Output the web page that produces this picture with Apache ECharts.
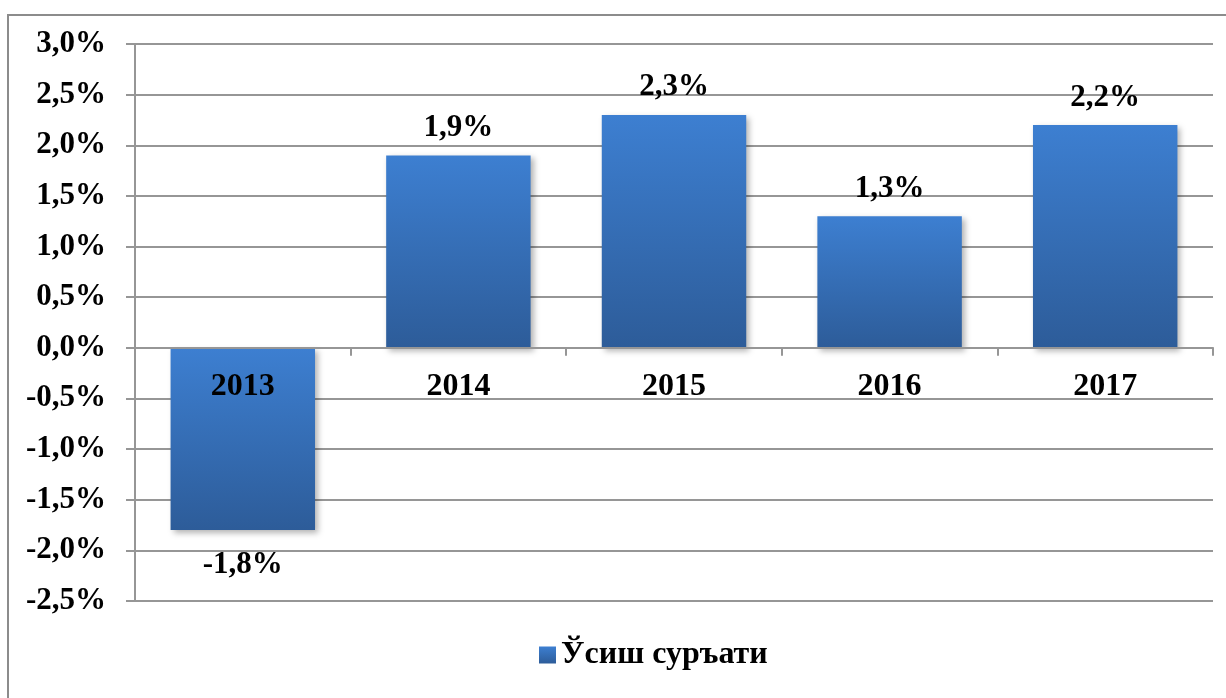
<!DOCTYPE html>
<html>
<head>
<meta charset="utf-8">
<script src="https://cdn.jsdelivr.net/npm/echarts@6/dist/echarts.min.js"></script>
<style>
  html, body { margin: 0; padding: 0; background: #fff; }
  #chart { width: 1226px; height: 698px; }
</style>
</head>
<body>
<div id="chart"></div>
<script>
let years = ['2013', '2014', '2015', '2016', '2017'];
let growth = [-1.8, 1.9, 2.3, 1.3, 2.2];
let series_name = 'Ўсиш суръати';

let font = 'Liberation Serif';

function pct(v) {
    return v.toFixed(1).replace('.', ',') + '%';
}

let grid_color = '#969696';

function txt(size) {
    return {fontFamily: font, fontWeight: 'bold', fontSize: size, color: '#000'};
}

let bar_color = new echarts.graphic.LinearGradient(0, 0, 0, 1, [
    {offset: 0, color: '#3d7fd1'},
    {offset: 1, color: '#2d5c99'}
]);

let chart = echarts.init(document.getElementById('chart'));

let option = {
    animation: false,
    textStyle: {fontFamily: font},
    graphic: [{
        type: 'rect',
        shape: {x: 8, y: 15, width: 1400, height: 900},
        style: {fill: 'none', stroke: '#8c8c8c', lineWidth: 2},
        z: -10
    }],
    grid: {left: 135, right: 13, top: 44, bottom: 97},
    legend: {
        bottom: 22,
        left: 534,
        icon: 'rect',
        itemWidth: 17,
        itemHeight: 17,
        itemGap: 8,
        textStyle: txt(32),
        data: [{name: series_name, itemStyle: {color: bar_color}, textStyle: txt(32)}]
    },
    xAxis: {
        type: 'category',
        data: years,
        z: 5,
        axisLine: {onZero: true, lineStyle: {color: grid_color, width: 2}},
        axisTick: {show: true, length: 8, lineStyle: {color: grid_color, width: 2}},
        // labels sit just under the zero line, not at the grid bottom
        axisLabel: Object.assign({margin: -230}, txt(32))
    },
    yAxis: {
        type: 'value',
        min: -2.5,
        max: 3.0,
        interval: 0.5,
        axisLine: {show: true, lineStyle: {color: grid_color, width: 2}},
        axisTick: {show: true, length: 9, lineStyle: {color: grid_color, width: 2}},
        splitLine: {lineStyle: {color: grid_color, width: 2}},
        axisLabel: Object.assign({margin: 29, formatter: pct}, txt(31))
    },
    series: [{
        name: series_name,
        type: 'bar',
        barWidth: '67%',
        itemStyle: {
            color: bar_color,
            shadowColor: 'rgba(0,0,0,0.3)',
            shadowBlur: 6,
            shadowOffsetX: 3,
            shadowOffsetY: 3
        },
        label: Object.assign({show: true, formatter: (p) => pct(p.value)}, txt(31)),
        data: growth.map((v) => ({
            value: v,
            label: v < 0 ? {position: 'bottom', distance: 19} : {position: 'top', distance: 12}
        }))
    }]
};

chart.setOption(option);
</script>
</body>
</html>
